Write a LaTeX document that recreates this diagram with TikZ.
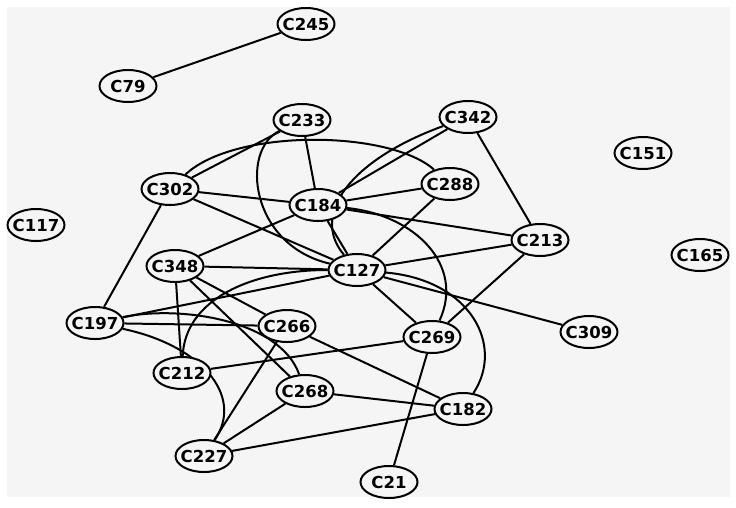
\documentclass[tikz,border=0pt]{standalone}
\usepackage{fontspec}
\setmainfont{DejaVu Sans}
\usetikzlibrary{shapes.geometric}
\pgfdeclarelayer{bglayer}
\pgfdeclarelayer{edgelayer}
\pgfsetlayers{bglayer,edgelayer,main}
\definecolor{paper}{HTML}{F5F5F5}
\tikzset{
  vertex/.style={ellipse, draw=black, line width=2pt, fill=paper, inner sep=0pt,
    minimum width=57pt, minimum height=32pt, font=\bfseries\fontsize{16.5}{17}\selectfont},
  link/.style={draw=black, line width=2pt}
}
\newcommand{\vl}[1]{\makebox[0pt]{#1}}
\begin{document}
\begin{tikzpicture}[x=1pt,y=-1pt]
\useasboundingbox (0,0) rectangle (736,507);
\begin{pgfonlayer}{bglayer}
\fill[white] (0,0) rectangle (736,507);
\fill[paper] (7,7) rectangle (730,497);
\end{pgfonlayer}
% nodes
\node[vertex] (C245) at (306,24) {\vl{C245}};
\node[vertex] (C79) at (128,86) {\vl{C79}};
\node[vertex] (C233) at (302,120) {\vl{C233}};
\node[vertex] (C342) at (468,117) {\vl{C342}};
\node[vertex] (C151) at (643,153) {\vl{C151}};
\node[vertex] (C302) at (170,189) {\vl{C302}};
\node[vertex] (C288) at (450,184) {\vl{C288}};
\node[vertex] (C184) at (318,205) {\vl{C184}};
\node[vertex] (C117) at (36,225) {\vl{C117}};
\node[vertex] (C213) at (540,240) {\vl{C213}};
\node[vertex] (C165) at (700,255) {\vl{C165}};
\node[vertex] (C348) at (175,266) {\vl{C348}};
\node[vertex] (C127) at (357,270) {\vl{C127}};
\node[vertex] (C197) at (95,323) {\vl{C197}};
\node[vertex] (C266) at (287,326) {\vl{C266}};
\node[vertex] (C309) at (589,332) {\vl{C309}};
\node[vertex] (C269) at (432,337) {\vl{C269}};
\node[vertex] (C212) at (182,373) {\vl{C212}};
\node[vertex] (C268) at (305,391) {\vl{C268}};
\node[vertex] (C182) at (463,409) {\vl{C182}};
\node[vertex] (C227) at (204,456) {\vl{C227}};
\node[vertex] (C21) at (389,482) {\vl{C21}};
% edges
\begin{pgfonlayer}{edgelayer}
\path[link] (C245) -- (C79);
\path[link] (C233) -- (C302);
\path[link] (C233) -- (C184);
\path[link] (C302) -- (C184);
\path[link] (C302) -- (C127);
\path[link] (C302) -- (C197);
\path[link] (C342) -- (C184);
\path[link] (C342) -- (C213);
\path[link] (C288) -- (C184);
\path[link] (C288) -- (C127);
\path[link] (C184) -- (C213);
\path[link] (C184) -- (C348);
\path[link] (C184) -- (C127);
\path[link] (C127) -- (C213);
\path[link] (C127) -- (C348);
\path[link] (C127) -- (C269);
\path[link] (C127) -- (C309);
\path[link] (C127) -- (C197);
\path[link] (C213) -- (C269);
\path[link] (C348) -- (C212);
\path[link] (C348) -- (C266);
\path[link] (C348) -- (C268);
\path[link] (C197) -- (C266);
\path[link] (C266) -- (C227);
\path[link] (C266) -- (C182);
\path[link] (C212) -- (C269);
\path[link] (C268) -- (C227);
\path[link] (C268) -- (C182);
\path[link] (C227) -- (C182);
\path[link] (C269) -- (C21);
% curved edges
\path[link] (C233) .. controls (240,150) and (250,245) .. (C127);
\path[link] (C302) .. controls (235,128) and (390,130) .. (C288);
\path[link] (C342) .. controls (350,160) and (310,215) .. (C127);
\path[link] (C184) .. controls (415,215) and (465,265) .. (C269);
\path[link] (C127) .. controls (470,280) and (505,345) .. (C182);
\path[link] (C197) .. controls (180,305) and (280,320) .. (C268);
\path[link] (C197) .. controls (200,345) and (245,395) .. (C227);
\path[link] (C212) .. controls (185,300) and (250,270) .. (C127);
\end{pgfonlayer}
\end{tikzpicture}
\end{document}
